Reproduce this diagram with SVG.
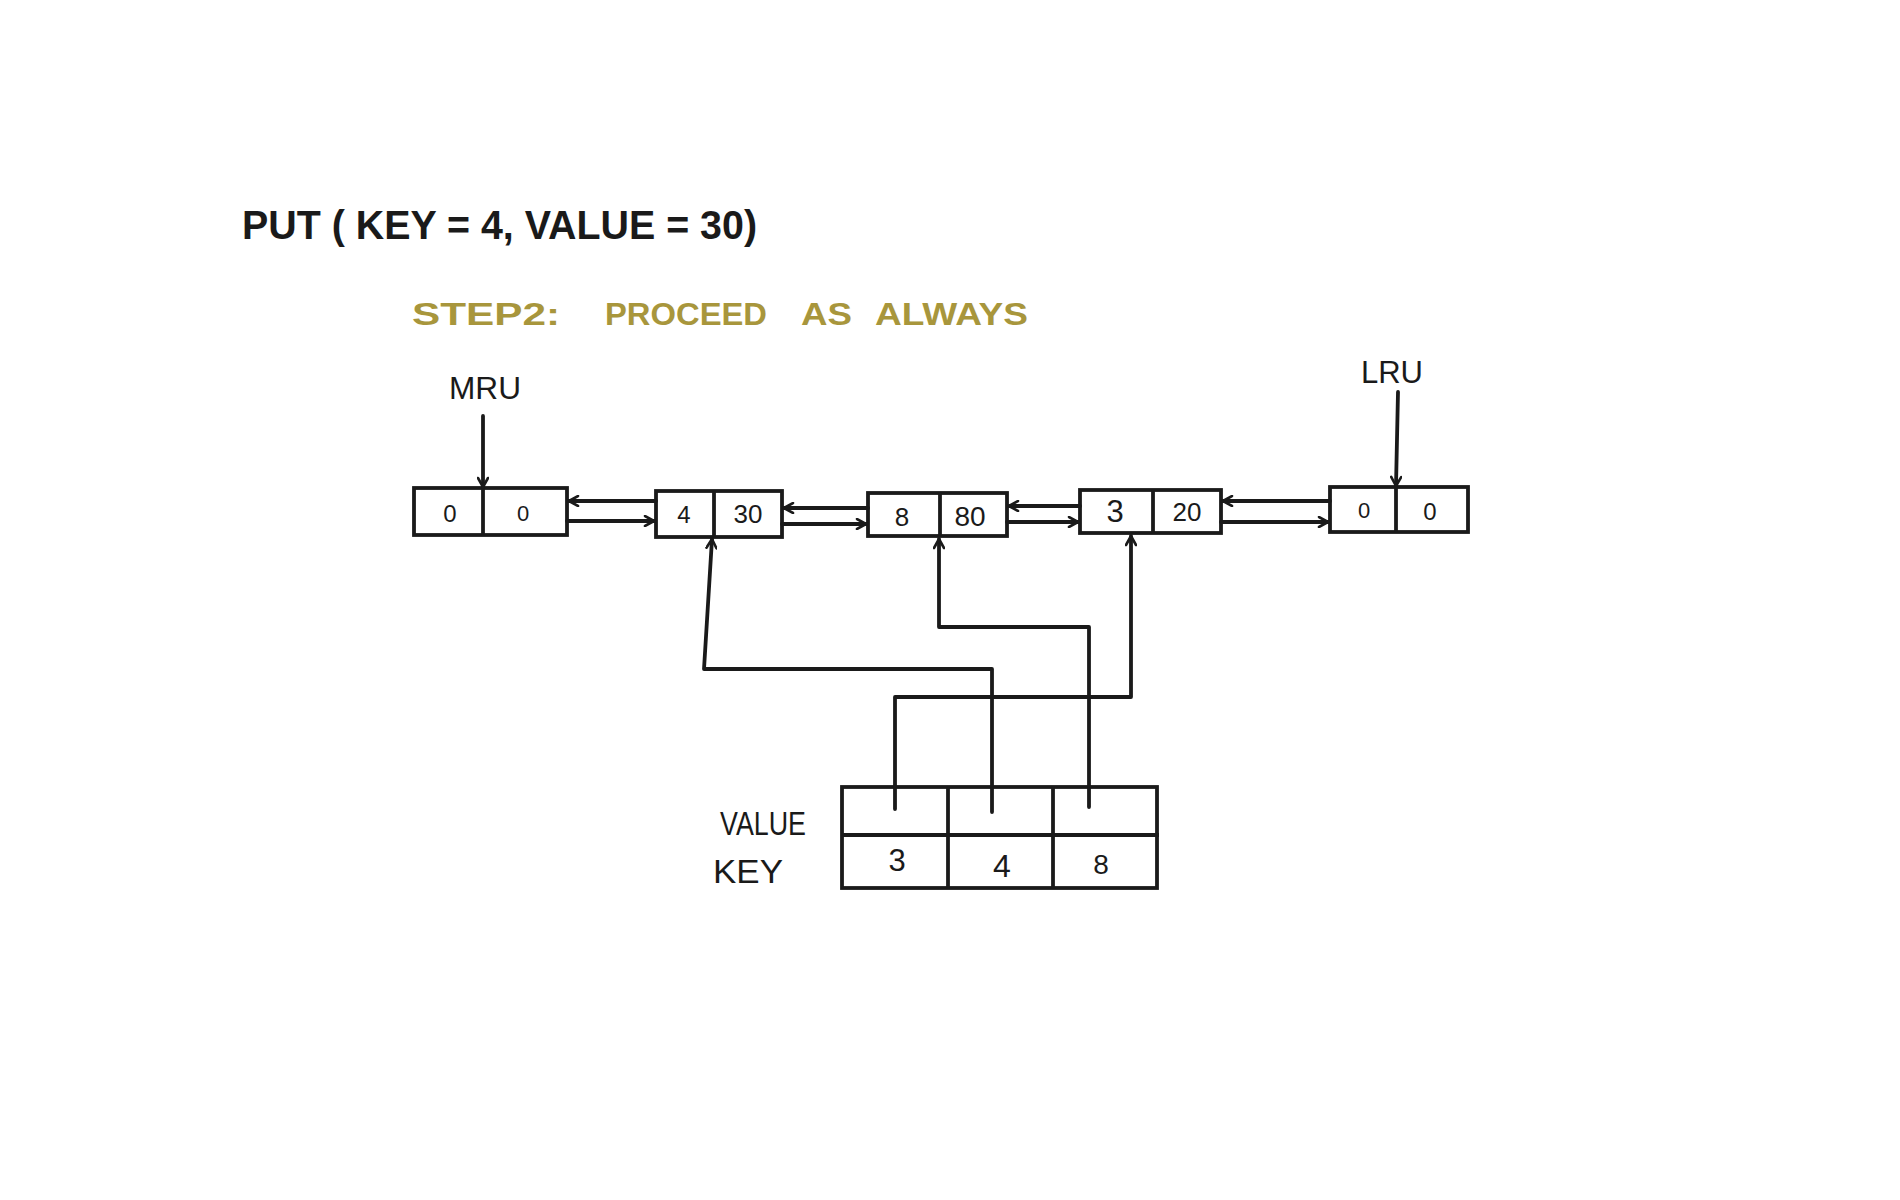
<svg xmlns="http://www.w3.org/2000/svg" width="1900" height="1200" viewBox="0 0 1900 1200">
<style>
.box{fill:none;stroke:#1a1a1a;stroke-width:3.8}
.ln{fill:none;stroke:#1a1a1a;stroke-width:3.8;stroke-linejoin:round;stroke-linecap:round}
.t{font-family:"Liberation Sans",Arial,sans-serif;fill:#1a1a1a}
.c{text-anchor:middle}
.step{font-family:"Liberation Sans",Arial,sans-serif;fill:#a8963c;font-weight:bold;font-size:32px}
</style>
<defs>
<marker id="ah" viewBox="0 0 12 12" refX="11" refY="6" markerWidth="12" markerHeight="12" markerUnits="userSpaceOnUse" orient="auto">
<path d="M2,1 L11,6 L2,11" fill="none" stroke="#1a1a1a" stroke-width="2.6" stroke-linecap="round" stroke-linejoin="round"/>
</marker>
</defs>
<rect width="1900" height="1200" fill="#ffffff"/>
<g id="title">
<text class="t" x="242" y="239" font-size="40" font-weight="bold" textLength="515" lengthAdjust="spacingAndGlyphs">PUT ( KEY = 4, VALUE = 30)</text>
</g>
<g id="step">
<text class="step" x="412" y="325" textLength="148" lengthAdjust="spacingAndGlyphs">STEP2:</text>
<text class="step" x="605" y="325" textLength="162" lengthAdjust="spacingAndGlyphs">PROCEED</text>
<text class="step" x="801" y="325" textLength="51" lengthAdjust="spacingAndGlyphs">AS</text>
<text class="step" x="875" y="325" textLength="153" lengthAdjust="spacingAndGlyphs">ALWAYS</text>
</g>
<g id="label-mru">
<text class="t" x="485" y="399" font-size="32" text-anchor="middle" textLength="72" lengthAdjust="spacingAndGlyphs">MRU</text>
</g>
<g id="label-lru">
<text class="t" x="1392" y="383" font-size="32" text-anchor="middle" textLength="62" lengthAdjust="spacingAndGlyphs">LRU</text>
</g>
<g id="node-head">
<rect class="box" x="414" y="488" width="153" height="47"/>
<line class="box" x1="483" y1="488" x2="483" y2="535"/>
<text class="t c" x="450" y="522" font-size="24">0</text>
<text class="t c" x="523" y="521" font-size="22">0</text>
</g>
<g id="node-4">
<rect class="box" x="656" y="491" width="126" height="46"/>
<line class="box" x1="714" y1="491" x2="714" y2="537"/>
<text class="t c" x="684" y="523" font-size="24">4</text>
<text class="t c" x="748" y="523" font-size="26">30</text>
</g>
<g id="node-8">
<rect class="box" x="868" y="493" width="139" height="43"/>
<line class="box" x1="940" y1="493" x2="940" y2="536"/>
<text class="t c" x="902" y="526" font-size="26">8</text>
<text class="t c" x="970" y="526" font-size="28">80</text>
</g>
<g id="node-3">
<rect class="box" x="1080" y="490" width="141" height="43"/>
<line class="box" x1="1153" y1="490" x2="1153" y2="533"/>
<text class="t c" x="1115" y="522" font-size="31">3</text>
<text class="t c" x="1187" y="521" font-size="26">20</text>
</g>
<g id="node-tail">
<rect class="box" x="1330" y="487" width="138" height="45"/>
<line class="box" x1="1396" y1="487" x2="1396" y2="532"/>
<text class="t c" x="1364" y="518" font-size="22">0</text>
<text class="t c" x="1430" y="520" font-size="24">0</text>
</g>
<g id="map-table">
<rect class="box" x="842" y="787" width="315" height="101"/>
<line class="box" x1="842" y1="835" x2="1159" y2="835"/>
<line class="box" x1="948" y1="787" x2="948" y2="888"/>
<line class="box" x1="1053" y1="787" x2="1053" y2="888"/>
<text class="t c" x="897" y="871" font-size="31">3</text>
<text class="t c" x="1002" y="877" font-size="32">4</text>
<text class="t c" x="1101" y="874" font-size="28">8</text>
<text class="t" x="720" y="835" font-size="34" textLength="86" lengthAdjust="spacingAndGlyphs">VALUE</text>
<text class="t" x="713" y="883" font-size="34" textLength="70" lengthAdjust="spacingAndGlyphs">KEY</text>
</g>
<g id="connectors">
<line class="ln" x1="483" y1="416" x2="483" y2="487" marker-end="url(#ah)"/>
<line class="ln" x1="1398" y1="392" x2="1396" y2="486" marker-end="url(#ah)"/>
<line class="ln" x1="656" y1="501" x2="569" y2="501" marker-end="url(#ah)"/>
<line class="ln" x1="567" y1="521" x2="654" y2="521" marker-end="url(#ah)"/>
<line class="ln" x1="868" y1="508" x2="784" y2="508" marker-end="url(#ah)"/>
<line class="ln" x1="782" y1="524" x2="866" y2="524" marker-end="url(#ah)"/>
<line class="ln" x1="1080" y1="506" x2="1009" y2="506" marker-end="url(#ah)"/>
<line class="ln" x1="1007" y1="522" x2="1078" y2="522" marker-end="url(#ah)"/>
<line class="ln" x1="1330" y1="501" x2="1223" y2="501" marker-end="url(#ah)"/>
<line class="ln" x1="1221" y1="522" x2="1328" y2="522" marker-end="url(#ah)"/>
<polyline class="ln" points="992,812 992,669 704,669 712,539" marker-end="url(#ah)"/>
<polyline class="ln" points="1089,807 1089,627 939,627 939,539" marker-end="url(#ah)"/>
<polyline class="ln" points="895,809 895,697 1131,697 1131,536" marker-end="url(#ah)"/>
</g>
</svg>
